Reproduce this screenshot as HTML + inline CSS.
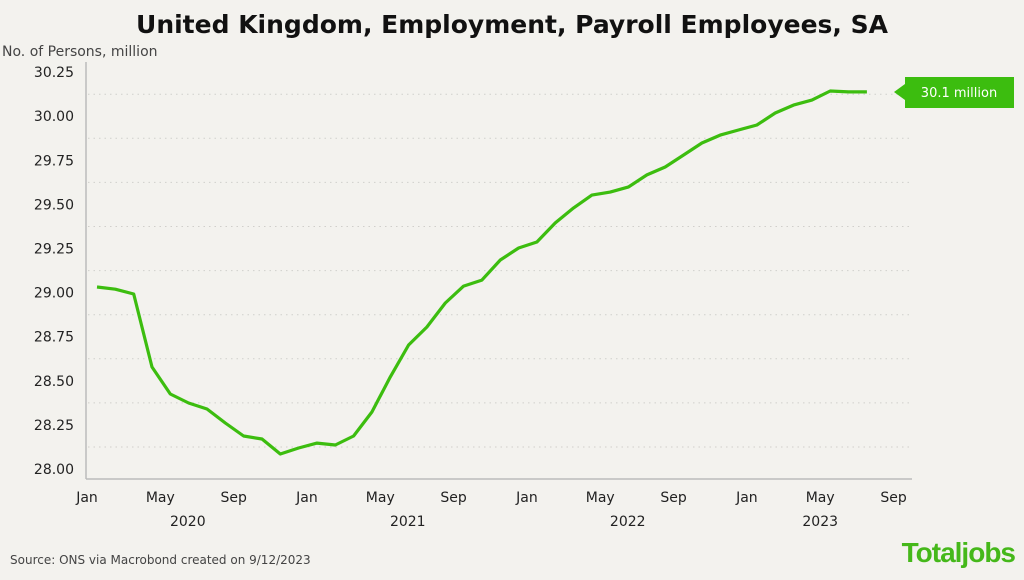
<!DOCTYPE html>
<html><head><meta charset="utf-8"><style>
body{margin:0;background:#f3f2ee;}
svg{display:block;font-family:"DejaVu Sans","Liberation Sans",sans-serif;}
</style></head><body>
<svg width="1024" height="580" viewBox="0 0 1024 580">
<rect width="1024" height="580" fill="#f3f2ee"/>
<text x="512" y="33" text-anchor="middle" font-size="25" font-weight="bold" fill="#111" font-family="'DejaVu Sans',sans-serif">United Kingdom, Employment, Payroll Employees, SA</text>
<text x="2" y="56" font-size="14" fill="#444">No. of Persons, million</text>
<g id="grid"></g>
<g id="yticks"></g>
<g id="xticks"></g>
<line x1="86" y1="62" x2="86" y2="479" stroke="#bbb" stroke-width="1.5"/>
<line x1="86" y1="479" x2="912" y2="479" stroke="#bbb" stroke-width="1.5"/>
<path id="series" fill="none" stroke="#3cbd0f" stroke-width="3.2" stroke-linejoin="round"/>
<g>
<polygon points="894,92 905,84 905,77 1014,77 1014,108 905,108 905,100" fill="#3cbd0f"/>
<text x="959" y="97" text-anchor="middle" font-size="13" fill="#fff">30.1 million</text>
</g>
<text x="10" y="564" font-size="12" fill="#444">Source: ONS via Macrobond created on 9/12/2023</text>
<text x="1015" y="562" text-anchor="end" font-size="28" font-weight="bold" fill="#45b81a" font-family="'Liberation Sans',sans-serif" letter-spacing="-1">Totaljobs</text>
</svg>
<script>
const values=[29.032,29.019,28.992,28.578,28.425,28.374,28.340,28.261,28.187,28.170,28.085,28.119,28.147,28.136,28.187,28.323,28.522,28.703,28.805,28.941,29.037,29.071,29.185,29.253,29.287,29.395,29.480,29.553,29.570,29.599,29.667,29.712,29.780,29.848,29.893,29.922,29.950,30.018,30.063,30.091,30.143,30.138,30.138];
const yTickLabels=["28.00","28.25","28.50","28.75","29.00","29.25","29.50","29.75","30.00","30.25"];
const yTickValues=[28,28.25,28.5,28.75,29,29.25,29.5,29.75,30,30.25];
const monthLabels=["Jan","May","Sep","Jan","May","Sep","Jan","May","Sep","Jan","May","Sep"];
const monthIndex=[0,4,8,12,16,20,24,28,32,36,40,44];
const yearLabels=["2020","2021","2022","2023"];
const yearIndex=[5.5,17.5,29.5,40];
const NS="http://www.w3.org/2000/svg";
function y(v){return 469-(v-28)*176.4;}
function xp(i){return 97+i*18.33;}
function xt(i){return 87+i*18.33;}
const grid=document.getElementById('grid'),yt=document.getElementById('yticks'),xtg=document.getElementById('xticks');
for(let k=0;k<9;k++){
 const l=document.createElementNS(NS,'line');
 const gy=y(yTickValues[k])-22;
 l.setAttribute('x1',88);l.setAttribute('x2',910);l.setAttribute('y1',gy);l.setAttribute('y2',gy);
 l.setAttribute('stroke','#d0cfcb');l.setAttribute('stroke-dasharray','1.5 4');
 
 
 grid.appendChild(l);
}
yTickLabels.forEach((t,k)=>{
 const e=document.createElementNS(NS,'text');
 e.setAttribute('x',74);e.setAttribute('y',y(yTickValues[k])+5);e.setAttribute('text-anchor','end');
 e.setAttribute('font-size','14');e.setAttribute('fill','#222');e.textContent=t;
 
 
 yt.appendChild(e);
});
monthLabels.forEach((t,k)=>{
 const e=document.createElementNS(NS,'text');
 e.setAttribute('x',xt(monthIndex[k]));e.setAttribute('y',502);e.setAttribute('text-anchor','middle');
 e.setAttribute('font-size','14');e.setAttribute('fill','#222');e.textContent=t;
 
 
 xtg.appendChild(e);
});
yearLabels.forEach((t,k)=>{
 const e=document.createElementNS(NS,'text');
 e.setAttribute('x',xt(yearIndex[k]));e.setAttribute('y',526);e.setAttribute('text-anchor','middle');
 e.setAttribute('font-size','14');e.setAttribute('fill','#222');e.textContent=t;
 
 
 xtg.appendChild(e);
});
document.getElementById('series').setAttribute('d',values.map((v,i)=>(i?'L':'M')+xp(i).toFixed(1)+','+y(v).toFixed(1)).join(' '));
</script>
</body></html>
